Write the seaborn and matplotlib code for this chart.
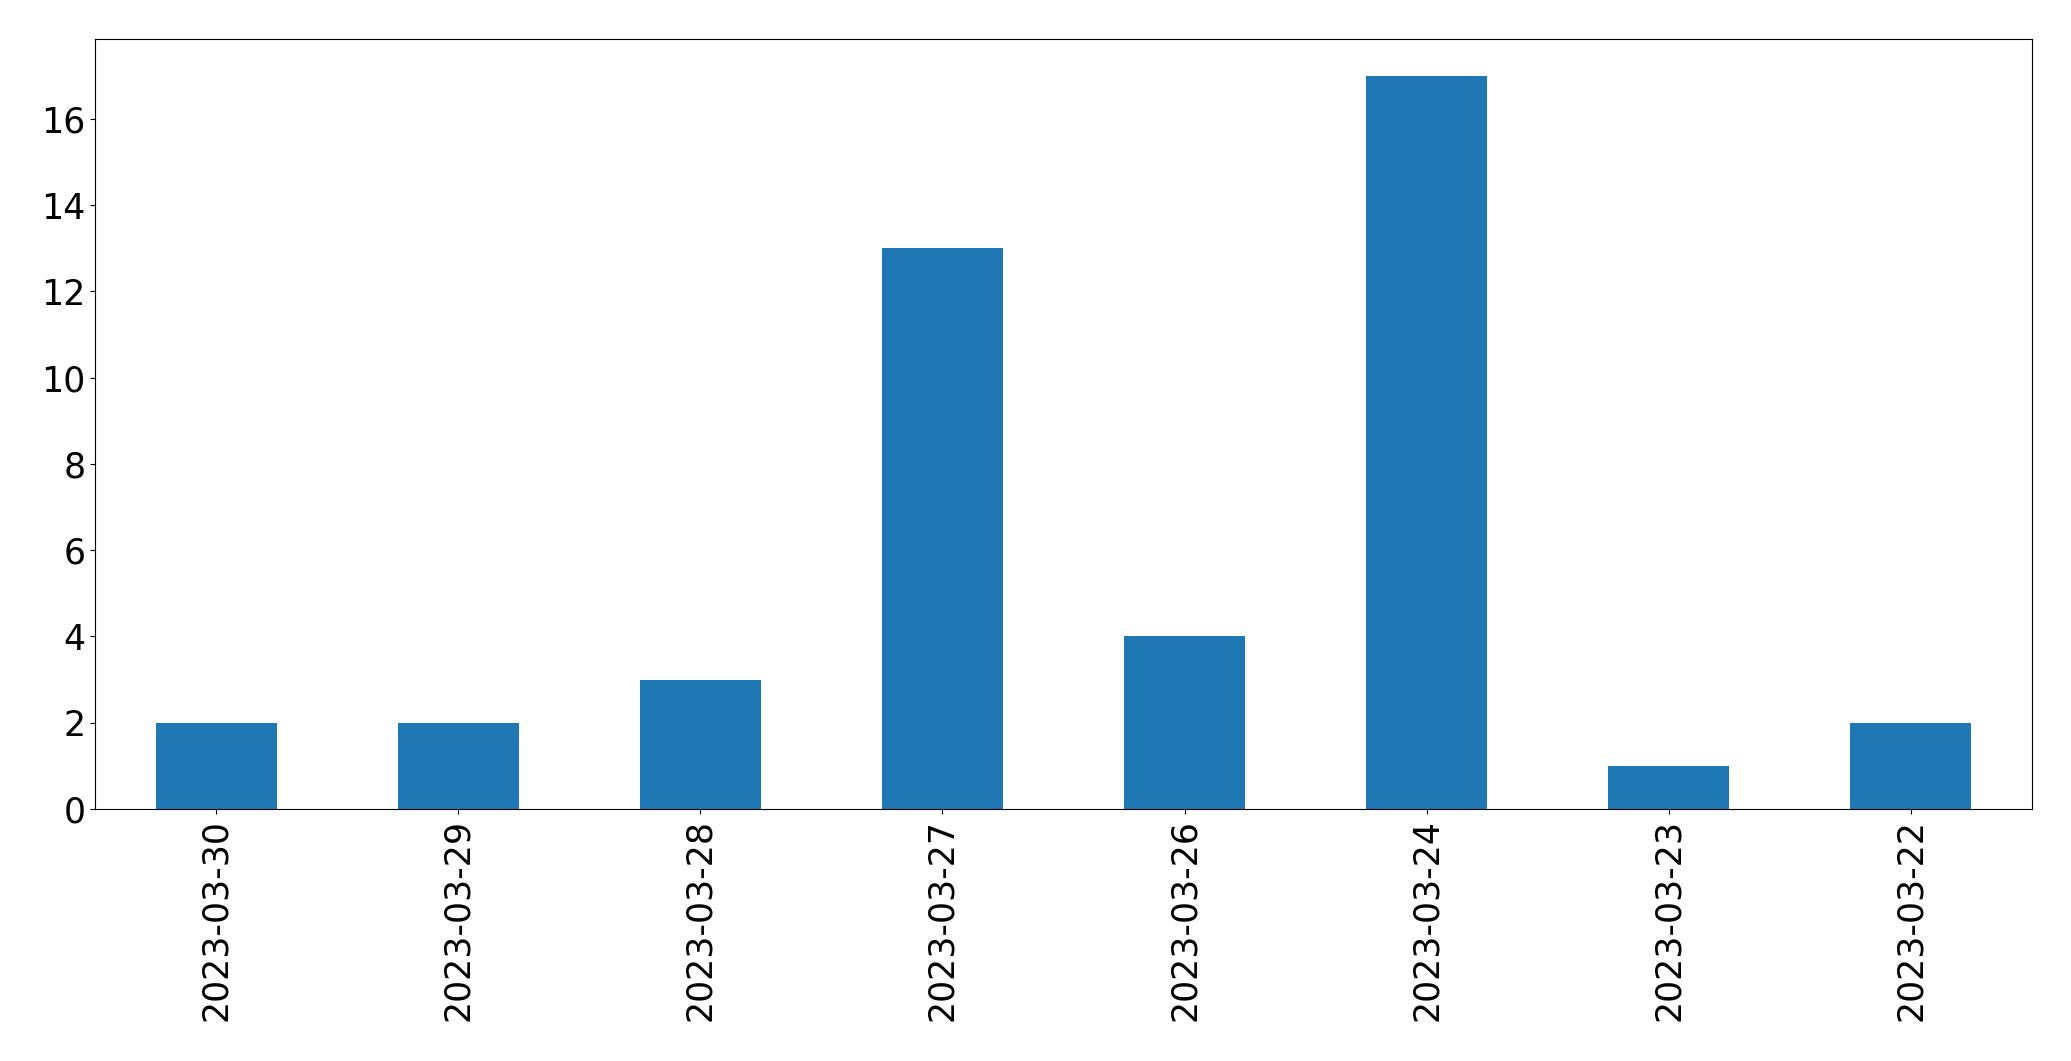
import matplotlib
matplotlib.use("Agg")
import matplotlib.pyplot as plt
import seaborn as sns
import pandas as pd

# daily counts, in the order shown on the chart
dates = ["2023-03-30", "2023-03-29", "2023-03-28", "2023-03-27",
         "2023-03-26", "2023-03-24", "2023-03-23", "2023-03-22"]
counts = [2, 2, 3, 13, 4, 17, 1, 2]

df = pd.DataFrame({"date": dates, "count": counts})

fig = plt.figure(figsize=(20.71, 10.61), dpi=100)
ax = fig.add_axes([95 / 2071, 1 - 809 / 1061, (2032 - 95) / 2071, (809 - 39) / 1061])

sns.barplot(data=df, x="date", y="count", order=dates, color="#1f77b4",
            saturation=1, width=0.5, ax=ax)

ax.set_xlim(-0.5, len(dates) - 0.5)
ax.set_ylim(0, max(counts) * 1.05)
ax.set_xlabel("")
ax.set_ylabel("")
ax.tick_params(axis="both", labelsize=25)
plt.setp(ax.get_xticklabels(), rotation=90)

fig.savefig("out.png", dpi=100)
